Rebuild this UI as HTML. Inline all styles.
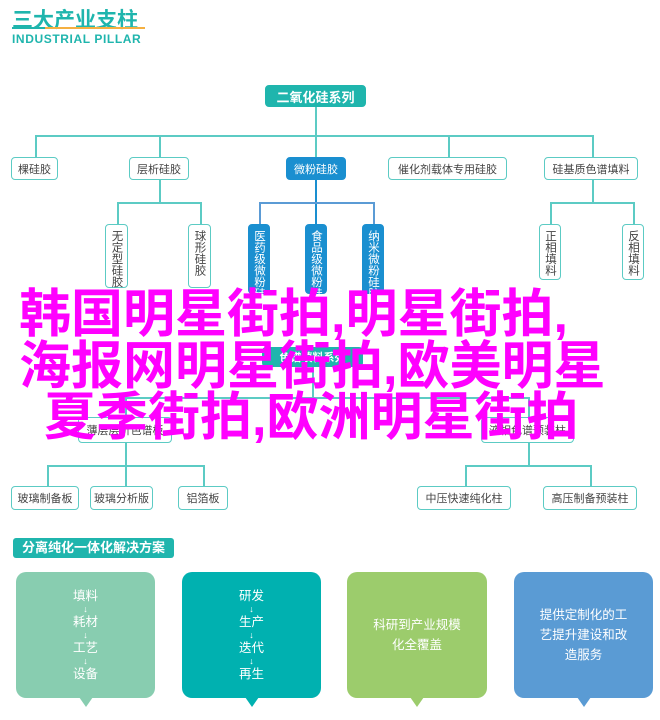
<!DOCTYPE html>
<html><head><meta charset="utf-8"><style>
body{margin:0;width:660px;height:720px;background:#fff;position:relative;overflow:hidden;font-family:"Liberation Sans","Noto Sans CJK SC",sans-serif}
.a{position:absolute;box-sizing:border-box}
.b{position:absolute;box-sizing:border-box;border:1.5px solid #5ccbc4;border-radius:4px;background:#fff;color:#444;font-size:11px;display:flex;align-items:center;justify-content:center;white-space:nowrap}
.v{writing-mode:vertical-rl;text-orientation:upright;align-items:center;justify-content:flex-start;padding-top:5px;letter-spacing:0;line-height:20px;font-size:11.5px}
.bl{background:#1a8fd0;border-color:#1a8fd0;color:#fff}
.t{background:#1fb5ad;border-color:#1fb5ad;color:#fff;font-weight:bold;font-size:13px}
.h{position:absolute;height:1.5px;background:#5ccbc4}
.w{position:absolute;width:1.5px;background:#5ccbc4}
.c{position:absolute;border-radius:10px;color:#fff;font-size:12.5px;text-align:center;display:flex;flex-direction:column;align-items:center;justify-content:center;line-height:20px}
.c:after{content:"";position:absolute;bottom:-9px;left:50%;margin-left:-7px;border-left:7px solid transparent;border-right:7px solid transparent;border-top:10px solid;border-top-color:inherit}
.m{position:absolute;color:#f0f;font-size:52px;font-weight:bold;white-space:nowrap;line-height:52px}
</style></head><body>
<div class="a" style="left:12px;top:4px;font-size:21px;font-weight:bold;color:#1fb5ad;letter-spacing:0">三大产业支柱</div>
<div class="a" style="left:12px;top:27px;width:33px;height:2px;background:#1fb5ad"></div>
<div class="a" style="left:45px;top:27px;width:100px;height:2px;background:#f5b041"></div>
<div class="a" style="left:12px;top:32px;font-size:12px;font-weight:bold;color:#1fb5ad;letter-spacing:0.6px">INDUSTRIAL PILLAR</div>

<div class="w" style="left:315px;top:107px;height:50px"></div>
<div class="h" style="left:35px;top:135px;width:557px"></div>
<div class="w" style="left:35px;top:135px;height:22px"></div>
<div class="w" style="left:159px;top:135px;height:22px"></div>
<div class="w" style="left:448px;top:135px;height:22px"></div>
<div class="w" style="left:592px;top:135px;height:22px"></div>
<div class="b t" style="left:265px;top:85px;width:101px;height:22px">二氧化硅系列</div>
<div class="b" style="left:11px;top:157px;width:47px;height:23px">棵硅胶</div>
<div class="b" style="left:129px;top:157px;width:60px;height:23px">层析硅胶</div>
<div class="b bl" style="left:286px;top:157px;width:60px;height:23px">微粉硅胶</div>
<div class="b" style="left:388px;top:157px;width:119px;height:23px">催化剂载体专用硅胶</div>
<div class="b" style="left:544px;top:157px;width:94px;height:23px">硅基质色谱填料</div>

<div class="w" style="left:159px;top:180px;height:22px"></div>
<div class="h" style="left:117px;top:202px;width:84px"></div>
<div class="w" style="left:117px;top:202px;height:22px"></div>
<div class="w" style="left:200px;top:202px;height:22px"></div>
<div class="w" style="left:315px;top:180px;height:44px;background:#1a8fd0"></div>
<div class="h" style="left:259px;top:202px;width:115px;background:#5b9bd5"></div>
<div class="w" style="left:259px;top:202px;height:22px;background:#5b9bd5"></div>
<div class="w" style="left:373px;top:202px;height:22px;background:#5b9bd5"></div>
<div class="w" style="left:592px;top:180px;height:22px"></div>
<div class="h" style="left:550px;top:202px;width:84px"></div>
<div class="w" style="left:550px;top:202px;height:22px"></div>
<div class="w" style="left:633px;top:202px;height:22px"></div>
<div class="b v" style="left:105px;top:224px;width:23px;height:64px">无定型硅胶</div>
<div class="b v" style="left:188px;top:224px;width:23px;height:64px">球形硅胶</div>
<div class="b v bl" style="left:248px;top:224px;width:22px;height:70px">医药级微粉硅胶</div>
<div class="b v bl" style="left:305px;top:224px;width:22px;height:70px">食品级微粉硅胶</div>
<div class="b v bl" style="left:362px;top:224px;width:22px;height:70px">纳米微粉硅胶</div>
<div class="b v" style="left:539px;top:224px;width:22px;height:56px">正相填料</div>
<div class="b v" style="left:622px;top:224px;width:22px;height:56px">反相填料</div>

<div class="w" style="left:312px;top:367px;height:30px"></div>
<div class="h" style="left:125px;top:397px;width:404px"></div>
<div class="w" style="left:125px;top:397px;height:20px"></div>
<div class="w" style="left:528px;top:397px;height:20px"></div>
<div class="b t" style="left:262px;top:347px;width:101px;height:20px;font-size:11px">色谱填料系列</div>
<div class="b" style="left:78px;top:417px;width:94px;height:26px">薄层层析色谱板</div>
<div class="b" style="left:481px;top:417px;width:93px;height:26px">液相色谱预装柱</div>
<div class="w" style="left:125px;top:443px;height:43px"></div>
<div class="h" style="left:47px;top:465px;width:157px"></div>
<div class="w" style="left:47px;top:465px;height:21px"></div>
<div class="w" style="left:203px;top:465px;height:21px"></div>
<div class="w" style="left:528px;top:443px;height:22px"></div>
<div class="h" style="left:465px;top:465px;width:126px"></div>
<div class="w" style="left:465px;top:465px;height:21px"></div>
<div class="w" style="left:590px;top:465px;height:21px"></div>
<div class="b" style="left:11px;top:486px;width:68px;height:24px">玻璃制备板</div>
<div class="b" style="left:90px;top:486px;width:63px;height:24px">玻璃分析版</div>
<div class="b" style="left:178px;top:486px;width:50px;height:24px">铝箔板</div>
<div class="b" style="left:417px;top:486px;width:94px;height:24px">中压快速纯化柱</div>
<div class="b" style="left:543px;top:486px;width:94px;height:24px">高压制备预装柱</div>

<div class="m" style="left:19px;top:289px">韩国明星街拍,明星街拍,</div>
<div class="m" style="left:19px;top:341px">海报网明星街拍,欧美明星</div>
<div class="m" style="left:44px;top:392px">夏季街拍,欧洲明星街拍</div>

<div class="a" style="left:13px;top:538px;width:161px;height:20px;background:#1fb5ad;border-radius:3px;color:#fff;font-weight:bold;font-size:13px;line-height:20px;padding-left:9px">分离纯化一体化解决方案</div>
<div class="c" style="left:16px;top:572px;width:139px;height:126px;background:#88cdb0;border-top-color:#88cdb0">填料<span style="font-size:9px;line-height:6px">↓</span>耗材<span style="font-size:9px;line-height:6px">↓</span>工艺<span style="font-size:9px;line-height:6px">↓</span>设备</div>
<div class="c" style="left:182px;top:572px;width:139px;height:126px;background:#00b1b0;border-top-color:#00b1b0">研发<span style="font-size:9px;line-height:6px">↓</span>生产<span style="font-size:9px;line-height:6px">↓</span>迭代<span style="font-size:9px;line-height:6px">↓</span>再生</div>
<div class="c" style="left:347px;top:572px;width:140px;height:126px;background:#9ccc6c;border-top-color:#9ccc6c">科研到产业规模<br>化全覆盖</div>
<div class="c" style="left:514px;top:572px;width:139px;height:126px;background:#5a9bd4;border-top-color:#5a9bd4">提供定制化的工<br>艺提升建设和改<br>造服务</div>
</body></html>
